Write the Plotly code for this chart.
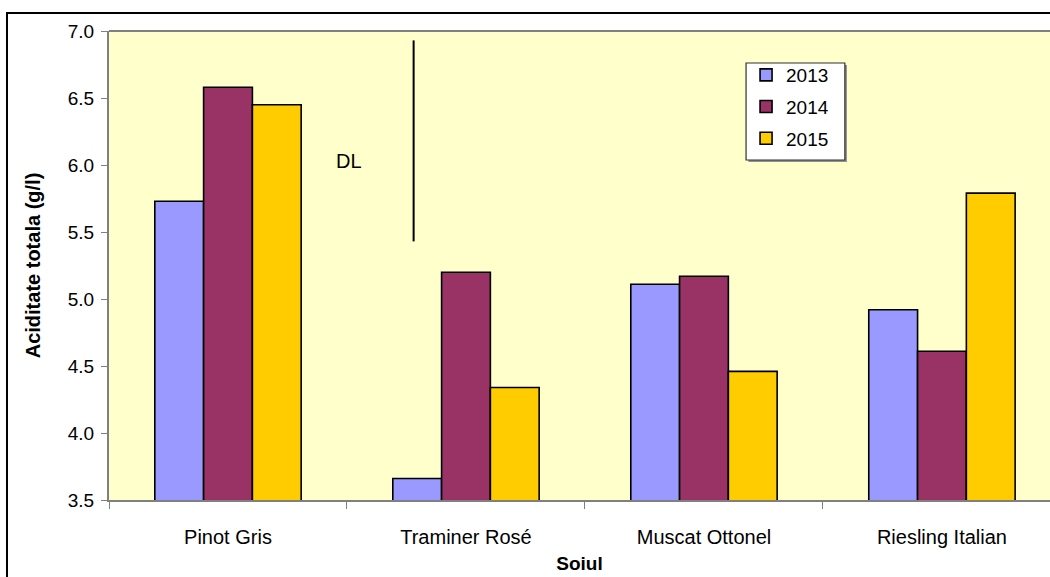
import plotly.graph_objects as go

# Grape varieties and total acidity (g/l) per harvest year
soiuri = ["Pinot Gris", "Traminer Rosé", "Muscat Ottonel", "Riesling Italian"]
ani = ["2013", "2014", "2015"]
acid_2013 = [5.73, 3.66, 5.11, 4.92]
acid_2014 = [6.58, 5.20, 5.17, 4.61]
acid_2015 = [6.45, 4.34, 4.46, 5.79]
culori = ["#9999FF", "#993366", "#FFCC00"]

# DL (least significant difference) marker: x position in category units, y span
dl_x = 0.78
dl_y = [5.43, 6.93]
dl_label_x = 0.51
dl_label_y = 6.03

font = "Liberation Sans, Arial, sans-serif"
fs = 19

fig = go.Figure()
for an, vals, col in zip(ani, [acid_2013, acid_2014, acid_2015], culori):
    fig.add_trace(go.Bar(
        x=soiuri, y=vals, name=an, legendgroup=an,
        marker=dict(color=col, line=dict(color="black", width=1.6)),
    ))

# DL vertical bar and label
fig.add_shape(type="line", xref="x", yref="y", x0=dl_x, x1=dl_x,
              y0=dl_y[0], y1=dl_y[1], line=dict(color="black", width=2))
fig.add_annotation(x=dl_label_x, y=dl_label_y, xref="x", yref="y", text="DL",
                   showarrow=False, font=dict(family=font, size=fs + 1, color="black"))

# Legend frame (shadow + white box)
fig.add_shape(type="rect", xref="paper", yref="paper", x0=0.6795, x1=0.7842,
              y0=0.7207, y1=0.9275, line=dict(width=0), fillcolor="#909090", layer="below")
fig.add_shape(type="rect", xref="paper", yref="paper", x0=0.677, x1=0.782,
              y0=0.725, y1=0.9318, line=dict(color="#303030", width=1.2),
              fillcolor="white", layer="below")

# Outer chart border
fig.add_shape(type="rect", xref="paper", yref="paper", x0=-0.1084, x1=1.02,
              y0=-0.25, y1=1.0384, line=dict(color="black", width=2), layer="above")

fig.update_layout(
    width=1050, height=577,
    margin=dict(l=109, r=0, t=31, b=77),
    paper_bgcolor="white",
    plot_bgcolor="#FFFFCC",
    barmode="group",
    bargap=0.385,
    bargroupgap=0,
    font=dict(family=font, size=fs, color="black"),
    showlegend=True,
    legend=dict(
        x=0.677, y=0.9467, xanchor="left", yanchor="top",
        bgcolor="rgba(0,0,0,0)", borderwidth=0,
        font=dict(family=font, size=fs),
        traceorder="grouped", tracegroupgap=4,
        itemwidth=30,
    ),
    xaxis=dict(
        type="category",
        range=[-0.5, 3.454],
        showline=True, linecolor="#808080", linewidth=2,
        ticks="outside", tickson="boundaries", ticklen=7, tickcolor="#808080",
        ticklabelstandoff=18,
        tickfont=dict(family=font, size=fs + 1),
        title=dict(text="<b>Soiul</b>", font=dict(family=font, size=fs), standoff=10),
        showgrid=False,
    ),
    yaxis=dict(
        range=[3.5, 7.0],
        tickvals=[3.5, 4.0, 4.5, 5.0, 5.5, 6.0, 6.5, 7.0],
        ticktext=["3.5", "4.0", "4.5", "5.0", "5.5", "6.0", "6.5", "7.0"],
        showline=True, linecolor="#808080", linewidth=2,
        ticks="outside", ticklen=6, tickcolor="#808080",
        ticklabelstandoff=3,
        tickfont=dict(family=font, size=fs),
        title=dict(text="<b>Aciditate totala (g/l)</b>", font=dict(family=font, size=fs + 1), standoff=22),
        showgrid=False, zeroline=False,
    ),
)

# Top edge of the plot area
fig.add_shape(type="line", xref="paper", yref="paper", x0=0, x1=1, y0=1, y1=1,
              line=dict(color="#808080", width=2))

fig.write_html("out.html")
